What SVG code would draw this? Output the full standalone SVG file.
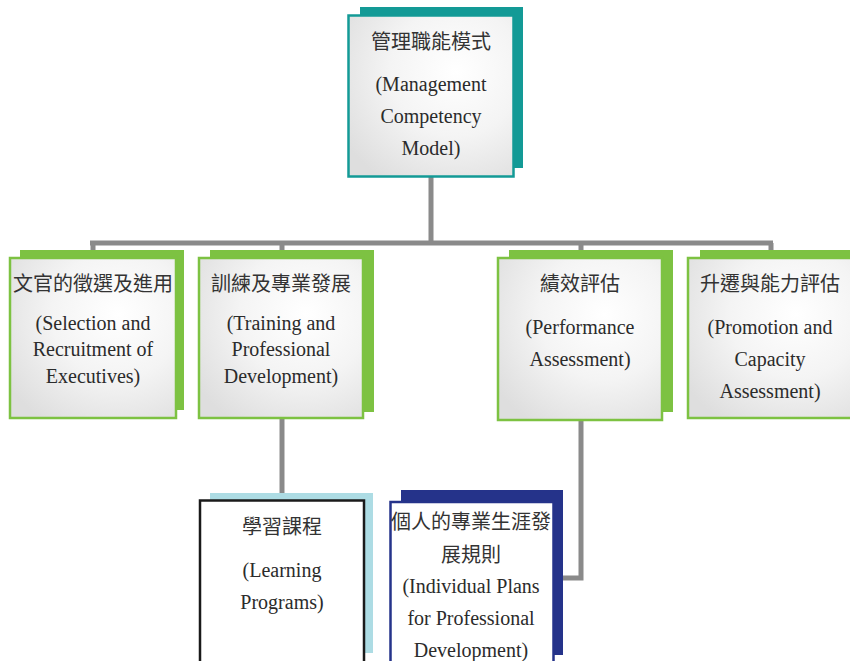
<svg xmlns="http://www.w3.org/2000/svg" width="850" height="661" viewBox="0 0 850 661">
<style>
.front{stroke-width:2.5}
.g{stroke:#7dc242}
.gs{fill:#7dc242}
.t{font-family:"Liberation Serif","Noto Sans CJK TC",serif;font-size:20px;fill:#2b2b2b;text-anchor:middle}
.c{font-family:"Noto Sans CJK TC","Liberation Serif",serif;font-size:20px;fill:#333333;text-anchor:middle}
.conn{stroke:#8a8a8a;stroke-width:5;fill:none}
</style>
<defs>
<radialGradient id="bg" cx="0.65" cy="0.35" r="0.8">
<stop offset="0" stop-color="#ffffff"/>
<stop offset="0.5" stop-color="#f4f4f4"/>
<stop offset="1" stop-color="#dedede"/>
</radialGradient>
</defs>
<rect width="850" height="661" fill="#ffffff"/>
<g id="connectors">
<path class="conn" d="M431 176V243M90 243H773M93 243V252M282 243V252M581 243V252M771 243V252"/>
<path class="conn" d="M282 418V495"/>
<path class="conn" d="M581 420V578H560"/>
</g>
<g id="n-top">
<rect x="360" y="7" width="163" height="161" fill="#139a96"/>
<rect x="348.5" y="15.5" width="165" height="161" fill="url(#bg)" stroke="#139a96" class="front"/>
<text class="c" x="431" y="49">管理職能模式</text>
<text class="t" x="431" y="91">(Management</text>
<text class="t" x="431" y="123">Competency</text>
<text class="t" x="431" y="155">Model)</text>
</g>
<g id="n-selection">
<rect x="20" y="250" width="164" height="160" class="gs"/>
<rect x="10" y="258" width="166" height="160" fill="url(#bg)" class="front g"/>
<text class="c" x="93" y="291">文官的徵選及進用</text>
<text class="t" x="93" y="330">(Selection and</text>
<text class="t" x="93" y="356">Recruitment of</text>
<text class="t" x="93" y="383">Executives)</text>
</g>
<g id="n-training">
<rect x="210" y="250" width="164" height="162" class="gs"/>
<rect x="199" y="258" width="164" height="160" fill="url(#bg)" class="front g"/>
<text class="c" x="281" y="291">訓練及專業發展</text>
<text class="t" x="281" y="330">(Training and</text>
<text class="t" x="281" y="356">Professional</text>
<text class="t" x="281" y="383">Development)</text>
</g>
<g id="n-performance">
<rect x="509" y="250" width="164" height="162" class="gs"/>
<rect x="498" y="258" width="164" height="162" fill="url(#bg)" class="front g"/>
<text class="c" x="580" y="291">績效評估</text>
<text class="t" x="580" y="334">(Performance</text>
<text class="t" x="580" y="366">Assessment)</text>
</g>
<g id="n-promotion">
<rect x="700" y="250" width="160" height="162" class="gs"/>
<rect x="688" y="258" width="166" height="160" fill="url(#bg)" class="front g"/>
<text class="c" x="770" y="291">升遷與能力評估</text>
<text class="t" x="770" y="334">(Promotion and</text>
<text class="t" x="770" y="366">Capacity</text>
<text class="t" x="770" y="398">Assessment)</text>
</g>
<g id="n-learning">
<rect x="210" y="493" width="163" height="160" fill="#addce4"/>
<rect x="200" y="500.5" width="164" height="170" fill="#ffffff" stroke="#1a1a1a" stroke-width="2.5"/>
<text class="c" x="282" y="534">學習課程</text>
<text class="t" x="282" y="577">(Learning</text>
<text class="t" x="282" y="609">Programs)</text>
</g>
<g id="n-individual">
<rect x="401" y="490" width="162" height="165" fill="#25338a"/>
<rect x="390.5" y="502" width="163" height="170" fill="#ffffff" stroke="#25338a" stroke-width="2.5"/>
<text class="c" x="471" y="529">個人的專業生涯發</text>
<text class="c" x="471" y="562">展規則</text>
<text class="t" x="471" y="593">(Individual Plans</text>
<text class="t" x="471" y="625">for Professional</text>
<text class="t" x="471" y="657">Development)</text>
</g>
</svg>
